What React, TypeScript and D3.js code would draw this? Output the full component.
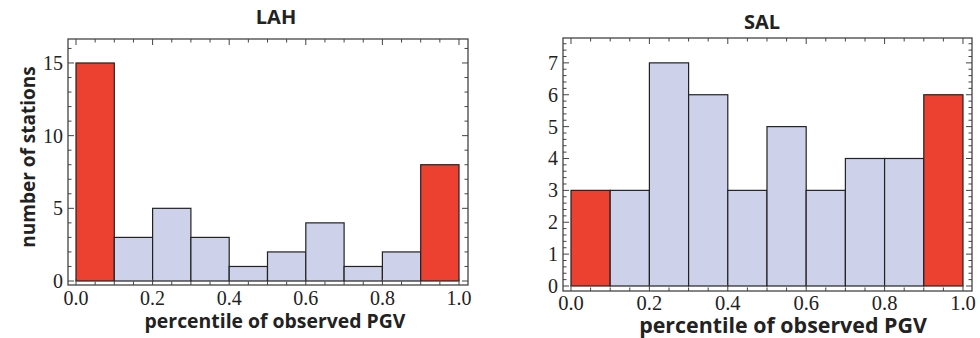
import React from "react";
import { scaleLinear, range } from "d3";

const bins = [0, 0.1, 0.2, 0.3, 0.4, 0.5, 0.6, 0.7, 0.8, 0.9];
const lahCounts = [15, 3, 5, 3, 1, 2, 4, 1, 2, 8];
const salCounts = [3, 3, 7, 6, 3, 5, 3, 4, 4, 6];
const redBins = [0, 9];
const xTicks = [0, 0.2, 0.4, 0.6, 0.8, 1.0];
const lahYTicks = [0, 5, 10, 15];
const salYTicks = [0, 1, 2, 3, 4, 5, 6, 7];

const RED = "#ec4030";
const BLUE = "#cdd1ea";
const FRAME = "#444";
const SANS = "'Open Sans', 'Noto Sans', sans-serif";
const SERIF = "'Liberation Serif', serif";

function Panel(props) {
  const { counts, frame, xDom, yDom, yTicks, yMinor, title, titlePos, xLabelPos, xLabelSize, tickDy, tickSize } = props;
  const x = scaleLinear().domain(xDom).range([frame.left, frame.right]);
  const y = scaleLinear().domain(yDom).range([frame.bottom, frame.top]);
  const xMinor = range(0, 1.0001, 0.05);
  const yMinorVals = range(0, yDom[1], yMinor);

  return (
    <g>
      {/* bars */}
      {counts.map((c, i) => (
        <rect
          key={i}
          x={x(bins[i])}
          y={y(c)}
          width={x(bins[i] + 0.1) - x(bins[i])}
          height={y(0) - y(c)}
          fill={redBins.includes(i) ? RED : BLUE}
          stroke="#222"
          strokeWidth={1.2}
        />
      ))}

      {/* frame */}
      <rect
        x={frame.left}
        y={frame.top}
        width={frame.right - frame.left}
        height={frame.bottom - frame.top}
        fill="none"
        stroke={FRAME}
        strokeWidth={1.3}
      />

      {/* x ticks, bottom and top */}
      {xMinor.map((v, i) => {
        const major = xTicks.some(t => Math.abs(t - v) < 1e-6);
        const len = major ? 6 : 3.5;
        return (
          <g key={`xt-${i}`} stroke={FRAME} strokeWidth={1}>
            <line x1={x(v)} x2={x(v)} y1={frame.bottom} y2={frame.bottom - len} />
            <line x1={x(v)} x2={x(v)} y1={frame.top} y2={frame.top + len} />
          </g>
        );
      })}

      {/* y ticks, left and right */}
      {yMinorVals.map((v, i) => {
        const major = yTicks.some(t => Math.abs(t - v) < 1e-6);
        const len = major ? 6 : 3.5;
        return (
          <g key={`yt-${i}`} stroke={FRAME} strokeWidth={1}>
            <line x1={frame.left} x2={frame.left + len} y1={y(v)} y2={y(v)} />
            <line x1={frame.right} x2={frame.right - len} y1={y(v)} y2={y(v)} />
          </g>
        );
      })}

      {/* tick labels */}
      <g fontFamily={SERIF} fill="#222">
        {xTicks.map(t => (
          <text key={`xl-${t}`} x={x(t)} y={frame.bottom + tickDy} textAnchor="middle" fontSize={tickSize}>
            {t.toFixed(1)}
          </text>
        ))}
        {yTicks.map(t => (
          <text key={`yl-${t}`} x={frame.left - 5} y={y(t) + 7} textAnchor="end" fontSize={20}>
            {t}
          </text>
        ))}
      </g>

      <text
        x={titlePos[0]}
        y={titlePos[1]}
        textAnchor="middle"
        fontFamily={SANS}
        fontWeight="bold"
        fontSize={20}
        fill="#222"
      >
        {title}
      </text>
      <text
        x={xLabelPos[0]}
        y={xLabelPos[1]}
        textAnchor="middle"
        fontFamily={SANS}
        fontWeight="bold"
        fontSize={xLabelSize}
        fill="#222"
      >
        percentile of observed PGV
      </text>
    </g>
  );
}

export default function App() {
  return (
    <svg
      width={980}
      height={338}
      style={{ position: "absolute", left: 0, top: 0, background: "#fff" }}
    >
      <Panel
        counts={lahCounts}
        frame={{ left: 68, right: 468, top: 39, bottom: 285 }}
        xDom={[-0.0209, 1.0235]}
        yDom={[-0.275, 16.65]}
        yTicks={lahYTicks}
        yMinor={1}
        title="LAH"
        titlePos={[276, 24]}
        xLabelPos={[275, 328]}
        xLabelSize={19.4}
        tickDy={20}
        tickSize={20}
      />
      <Panel
        counts={salCounts}
        frame={{ left: 563, right: 972, top: 38, bottom: 291 }}
        xDom={[-0.0204, 1.023]}
        yDom={[-0.157, 7.78]}
        yTicks={salYTicks}
        yMinor={0.2}
        title="SAL"
        titlePos={[762, 29]}
        xLabelPos={[783, 333]}
        xLabelSize={21.4}
        tickDy={19}
        tickSize={20.5}
      />
      <text
        transform="translate(35, 157) rotate(-90)"
        textAnchor="middle"
        fontFamily={SANS}
        fontWeight="bold"
        fontSize={19}
        fill="#222"
      >
        number of stations
      </text>
    </svg>
  );
}
